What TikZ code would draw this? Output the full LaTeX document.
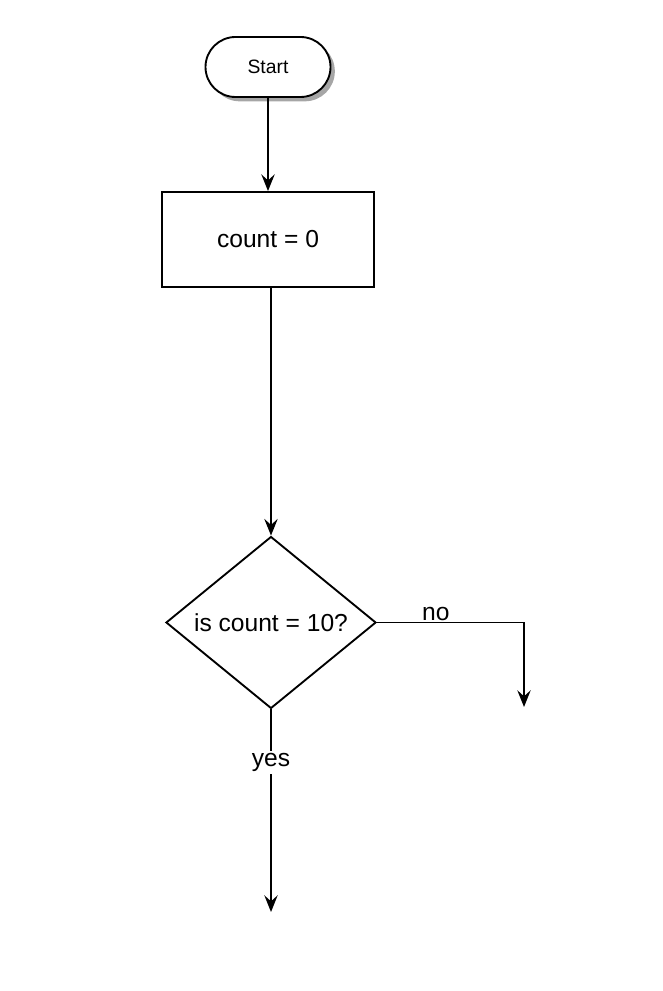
\documentclass[tikz,border=0pt]{standalone}
\usepackage{fontspec}
\setmainfont{Liberation Sans}
\usepackage{tikz}
\usetikzlibrary{shapes.geometric,shadows,arrows.meta}

\begin{document}
\begin{tikzpicture}[x=0.03cm, y=-0.03cm,
    line width=1.6pt,
    arr/.style={-{Stealth[length=0.5cm, width=0.4cm, inset=0.18cm]}},
    terminal/.style={draw, rectangle, rounded corners=0.9cm, fill=white,
        minimum width=3.75cm, minimum height=1.8cm,
        font=\fontsize{16.5}{19}\selectfont,
        drop shadow={shadow xshift=0.13cm, shadow yshift=-0.13cm, fill=black!35, opacity=1}},
    process/.style={draw, rectangle, minimum width=6.36cm, minimum height=2.85cm,
        font=\fontsize{21}{25}\selectfont},
    decision/.style={draw, diamond, inner sep=0pt, minimum width=6.3cm, minimum height=5.07cm,
        font=\fontsize{21}{25}\selectfont},
    edgelabel/.style={font=\fontsize{21}{25}\selectfont, inner sep=2pt}]

\useasboundingbox (0,0) rectangle (662,991);

% Start
\node[terminal] (start) at (268, 67) {Start};

% Init
\node[process] (init) at (268, 239.5) {count = 0};

% Test
\node[decision] (test) at (271, 622.5) {is count = 10?};

% Loose ends
\coordinate (noend) at (524, 707);
\coordinate (yesend) at (271, 912);

% Arrows
\draw[arr] (start) -- (init);
\draw[arr] (init.south -| test.north) -- (test.north);
\draw[arr] (test.east) -| node[edgelabel, pos=0.2, above, inner sep=1pt] {no} (noend);
\draw[arr] (test.south) -- node[edgelabel, pos=0.26, fill=white] {yes} (yesend);

\end{tikzpicture}
\end{document}
